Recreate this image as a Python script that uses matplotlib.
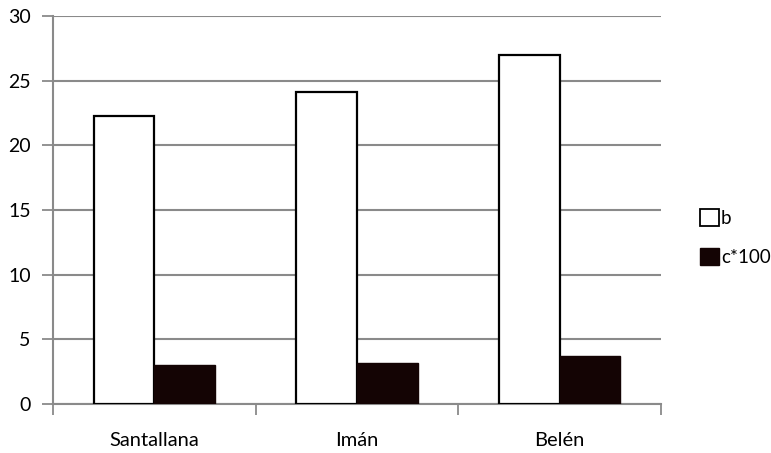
import numpy as np
import matplotlib.pyplot as plt
from matplotlib.patches import Patch

# Datos
categorias = ["Santallana", "Imán", "Belén"]
valores_b = [22.3, 24.1, 27.0]
valores_c100 = [3.0, 3.2, 3.7]

plt.rcParams['font.family'] = ['Lato', 'DejaVu Sans']

fig = plt.figure(figsize=(7.71, 4.53), dpi=100)
ax = fig.add_axes([53 / 771, 1 - 404 / 453, (661 - 53) / 771, (404 - 16) / 453])

x = np.arange(len(categorias))
ancho = 0.3
ax.bar(x - ancho / 2, valores_b, ancho, color="white", edgecolor="black",
       linewidth=1.6, zorder=3, label="b")
ax.bar(x + ancho / 2, valores_c100, ancho, color="#140404", edgecolor="#140404",
       linewidth=1, zorder=3, label="c*100")

ax.set_xlim(-0.5, len(categorias) - 0.5)
ax.set_ylim(0, 30)
ax.set_yticks(np.arange(0, 31, 5))
ax.yaxis.grid(True, color="#8a8a8a", linewidth=1.5, zorder=0)

# Marcas del eje x entre categorias
ax.set_xticks(x)
ax.set_xticklabels(categorias)
ax.set_xticks(np.arange(-0.5, len(categorias), 1), minor=True)
ax.tick_params(axis="x", which="major", length=0, pad=20, labelsize=14.5)
ax.tick_params(axis="x", which="minor", length=8, width=1.3, color="#8a8a8a")
ax.tick_params(axis="y", length=8, width=1.3, color="#8a8a8a", labelsize=14, pad=8)

for lado in ["top", "right"]:
    ax.spines[lado].set_visible(False)
for lado in ["left", "bottom"]:
    ax.spines[lado].set_color("#8a8a8a")
    ax.spines[lado].set_linewidth(1.5)

manejadores = [Patch(facecolor="white", edgecolor="black", linewidth=1.3),
               Patch(facecolor="#140404", edgecolor="#140404")]
fig.legend(manejadores, ["b", "c*100"], loc="upper left",
           bbox_to_anchor=(691 / 771, 1 - 200 / 453), frameon=False,
           fontsize=13.5, handlelength=1.0, handleheight=1.0,
           handletextpad=0.1, labelspacing=1.1, borderpad=0)

fig.savefig("out.png", dpi=100)
